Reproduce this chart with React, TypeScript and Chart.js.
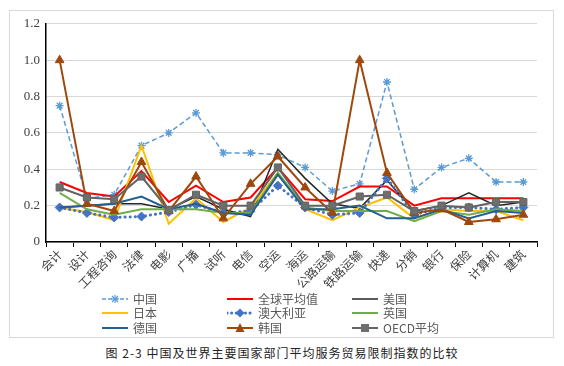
import React, { useEffect, useRef } from "react";
import { Chart, registerables } from "chart.js";
Chart.register(...registerables);

const categories = ["会计", "设计", "工程咨询", "法律", "电影", "广播", "试听", "电信", "空运", "海运", "公路运输", "铁路运输", "快递", "分销", "银行", "保险", "计算机", "建筑"];
const china = [0.75, 0.24, 0.26, 0.53, 0.6, 0.71, 0.49, 0.49, 0.48, 0.41, 0.28, 0.32, 0.88, 0.29, 0.41, 0.46, 0.33, 0.33];
const globalAvg = [0.33, 0.27, 0.25, 0.39, 0.22, 0.31, 0.22, 0.245, 0.41, 0.235, 0.225, 0.305, 0.305, 0.2, 0.24, 0.24, 0.24, 0.24];
const usa = [0.19, 0.2, 0.21, 0.21, 0.18, 0.25, 0.18, 0.14, 0.51, 0.35, 0.21, 0.185, 0.34, 0.17, 0.2, 0.27, 0.2, 0.22];
const japan = [0.19, 0.165, 0.12, 0.53, 0.1, 0.24, 0.11, 0.19, 0.38, 0.18, 0.12, 0.19, 0.245, 0.13, 0.18, 0.17, 0.17, 0.12];
const australia = [0.19, 0.16, 0.135, 0.14, 0.165, 0.205, 0.16, 0.17, 0.31, 0.19, 0.15, 0.16, 0.35, 0.15, 0.19, 0.19, 0.18, 0.19];
const uk = [0.27, 0.18, 0.15, 0.18, 0.18, 0.18, 0.16, 0.16, 0.38, 0.19, 0.17, 0.17, 0.17, 0.115, 0.17, 0.15, 0.18, 0.17];
const germany = [0.19, 0.2, 0.21, 0.25, 0.18, 0.21, 0.16, 0.15, 0.37, 0.18, 0.18, 0.2, 0.13, 0.13, 0.18, 0.13, 0.17, 0.16];
const korea = [1.0, 0.21, 0.17, 0.44, 0.17, 0.36, 0.13, 0.32, 0.47, 0.3, 0.16, 1.0, 0.38, 0.16, 0.18, 0.11, 0.125, 0.15];
const oecd = [0.3, 0.245, 0.235, 0.36, 0.175, 0.26, 0.2, 0.2, 0.41, 0.2, 0.2, 0.25, 0.26, 0.17, 0.2, 0.19, 0.22, 0.22];
const seriesNames = ["中国", "全球平均值", "美国", "日本", "澳大利亚", "英国", "德国", "韩国", "OECD平均"];
const caption = "图 2-3 中国及世界主要国家部门平均服务贸易限制指数的比较";

type Style = {
  color: string; width: number; dash: number[]; point: any; radius: number; fill: string; cap?: CanvasLineCap;
};
const styles: Style[] = [
  { color: "#5B9BD5", width: 1.5, dash: [5, 3], point: "star", radius: 4, fill: "#BDD7EE" },
  { color: "#FF0000", width: 2, dash: [], point: false, radius: 0, fill: "#FF0000" },
  { color: "#262626", width: 1.5, dash: [], point: false, radius: 0, fill: "#262626" },
  { color: "#FFC000", width: 2, dash: [], point: false, radius: 0, fill: "#FFC000" },
  { color: "#4472C4", width: 3, dash: [0.1, 5], point: "rectRot", radius: 4.5, fill: "#4472C4", cap: "round" },
  { color: "#70AD47", width: 2, dash: [], point: false, radius: 0, fill: "#70AD47" },
  { color: "#255E91", width: 2, dash: [], point: false, radius: 0, fill: "#255E91" },
  { color: "#9E480E", width: 2, dash: [], point: "triangle", radius: 5, fill: "#9E480E" },
  { color: "#636363", width: 2, dash: [], point: "rect", radius: 5, fill: "#6E6E6E" },
];
const seriesData = [china, globalAvg, usa, japan, australia, uk, germany, korea, oecd];

function LegendSample({ s }: { s: Style }) {
  const w = 26, h = 12, cy = 6;
  let marker: React.ReactNode = null;
  if (s.point === "star") {
    marker = (
      <g stroke={s.color} strokeWidth={1.2}>
        <line x1={13} y1={2} x2={13} y2={10} />
        <line x1={9} y1={6} x2={17} y2={6} />
        <line x1={10} y1={3} x2={16} y2={9} />
        <line x1={16} y1={3} x2={10} y2={9} />
      </g>
    );
  } else if (s.point === "rectRot") {
    marker = <polygon points="13,1.5 17.5,6 13,10.5 8.5,6" fill={s.fill} />;
  } else if (s.point === "triangle") {
    marker = <polygon points="13,1 17.5,10 8.5,10" fill={s.fill} />;
  } else if (s.point === "rect") {
    marker = <rect x={9} y={2} width={8} height={8} fill={s.fill} />;
  }
  return (
    <svg width={w} height={h} style={{ display: "block" }}>
      <line x1={0} y1={cy} x2={w} y2={cy} stroke={s.color} strokeWidth={s.width}
        strokeDasharray={s.dash.length ? (s.cap === "round" ? "0.1 4.5" : "4 2") : undefined}
        strokeLinecap={s.cap || "butt"} />
      {marker}
    </svg>
  );
}

export default function App() {
  const ref = useRef<HTMLCanvasElement>(null);
  useEffect(() => {
    if (!ref.current) return;
    const chart = new Chart(ref.current, {
      type: "line",
      data: {
        labels: categories,
        datasets: seriesData.map((d, i) => {
          const s = styles[i];
          return {
            label: seriesNames[i],
            data: d,
            borderColor: s.color,
            backgroundColor: s.fill,
            borderWidth: s.width,
            borderDash: s.dash,
            borderCapStyle: s.cap || "butt",
            pointStyle: s.point,
            pointRadius: s.radius,
            pointBorderColor: s.color,
            pointBackgroundColor: s.fill,
            pointBorderWidth: s.point === "star" ? 1.3 : 1,
            tension: 0,
            fill: false,
            order: seriesData.length - i,
          } as any;
        }),
      },
      options: {
        animation: false,
        responsive: false,
        maintainAspectRatio: false,
        layout: { padding: { left: 0, right: 16, top: 12, bottom: 0 } },
        plugins: { legend: { display: false }, tooltip: { enabled: false } },
        scales: {
          x: {
            offset: true,
            grid: { offset: true, drawOnChartArea: false, drawTicks: true, tickLength: 5, color: "#000000" },
            border: { color: "#000000", width: 1.5 },
            ticks: {
              minRotation: 45, maxRotation: 45, autoSkip: false, color: "#404040",
              font: { family: "'Noto Sans CJK SC'", size: 12 }, padding: 0,
            },
            afterFit: (scale: any) => { scale.height = 68; },
          },
          y: {
            min: 0, max: 1.2,
            ticks: { stepSize: 0.2, color: "#404040", font: { family: "'Liberation Serif'", size: 13 }, padding: 6 },
            grid: { color: "#D9D9D9", drawTicks: false },
            border: { color: "#000000", width: 1.5 },
            afterFit: (scale: any) => { scale.width = 37; },
          },
        },
      },
    });
    return () => chart.destroy();
  }, []);

  const legendCols = [102, 227, 352];
  const legendRows = [299, 313, 328];
  return (
    <div style={{ position: "absolute", left: 0, top: 0, width: 564, height: 366, background: "#fff", overflow: "hidden" }}>
      <div style={{ position: "absolute", left: 9, top: 10, width: 543, height: 326, border: "1px solid #D9D9D9" }} />
      <canvas ref={ref} width={544} height={300} style={{ position: "absolute", left: 9, top: 10, width: 544, height: 300 }} />
      {seriesNames.map((n, i) => {
        const col = i % 3, row = Math.floor(i / 3);
        return (
          <div key={n} style={{ position: "absolute", left: legendCols[col], top: legendRows[row] - 8, height: 16, display: "flex", alignItems: "center" }}>
            <LegendSample s={styles[i]} />
            <span style={{ marginLeft: 5, fontFamily: "'Noto Sans CJK SC'", fontSize: 12, color: "#595959", lineHeight: "16px" }}>{n}</span>
          </div>
        );
      })}
      <div style={{ position: "absolute", left: 0, width: 564, top: 344, textAlign: "center", fontFamily: "'Noto Sans CJK SC'", fontSize: 12, color: "#222", letterSpacing: 1, lineHeight: "18px" }}>
        {caption}
      </div>
    </div>
  );
}
